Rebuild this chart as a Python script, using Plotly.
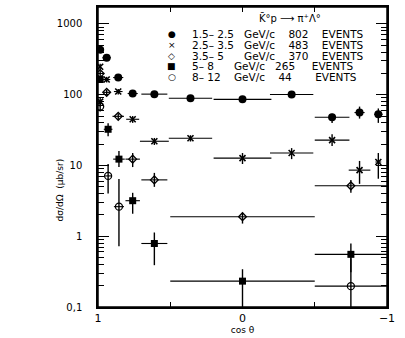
import plotly.graph_objects as go

# --- data (cos theta, dsigma/dOmega in microbarn/sr) ---
cos_a = [0.985, 0.94, 0.86, 0.76, 0.61, 0.36, 0.0, -0.34, -0.62, -0.81, -0.94]
val_a = [432, 333, 175, 104, 102, 89, 86, 101, 48, 56, 53]
up_a = [30, 25, 14, 8, 8, 6, 6, 7, 6, 12, 11]
dn_a = [30, 25, 14, 8, 8, 6, 6, 7, 8, 10, 13]
dx_a = [0.0, 0.03, 0.035, 0.035, 0.09, 0.15, 0.2, 0.15, 0.12, 0.035, 0.03]

cos_b = [0.985, 0.985, 0.94, 0.86, 0.76, 0.61, 0.36, 0.0, -0.34, -0.62, -0.81, -0.94]
val_b = [249, 80, 164, 111, 45, 22, 24.3, 12.7, 15, 22.8, 8.6, 11.2]
up_b = [25, 12, 15, 10, 5, 2.5, 2.5, 2.3, 2.6, 4.9, 3.0, 3.8]
dn_b = [25, 12, 15, 10, 5, 2.5, 2.5, 2.2, 2.7, 4.0, 3.1, 4.7]
dx_b = [0.0, 0.0, 0.025, 0.03, 0.045, 0.1, 0.15, 0.2, 0.15, 0.12, 0.075, 0.02]

cos_c = [0.985, 0.94, 0.86, 0.76, 0.61, 0.0, -0.75]
val_c = [199, 108, 49.5, 12.3, 6.26, 1.89, 5.16]
up_c = [20, 9, 5, 2.7, 1.6, 0.26, 1.1]
dn_c = [20, 9, 5, 2.8, 1.27, 0.38, 1.05]
dx_c = [0.0, 0.025, 0.04, 0.05, 0.09, 0.5, 0.25]

cos_d = [0.985, 0.93, 0.855, 0.76, 0.61, 0.0, -0.75]
val_d = [164, 32.5, 12.3, 3.18, 0.79, 0.232, 0.555]
up_d = [15, 7, 3.7, 0.93, 0.34, 0.11, 0.235]
dn_d = [15, 6.6, 2.8, 1.1, 0.4, 0.14, 0.245]
dx_d = [0.0, 0.03, 0.04, 0.05, 0.09, 0.5, 0.25]

cos_e = [0.985, 0.93, 0.855, -0.75]
val_e = [68, 7.12, 2.62, 0.197]
up_e = [10, 3.4, 3.84, 0.29]
dn_e = [10, 3.1, 1.9, 0.11]
dx_e = [0.0, 0.02, 0.035, 0.25]

legend_glyphs = ["●", "×", "◇", "■", "○"]
# extra spaces keep the columns roughly where the scan has them
legend_texts = [
    "1.5– 2.5   GeV/c    802    EVENTS",
    "2.5– 3.5   GeV/c    483    EVENTS",
    "3.5– 5      GeV/c    370    EVENTS",
    "5– 8      GeV/c   265     EVENTS",
    "8– 12    GeV/c    44       EVENTS",
]
reaction = "K̄°p ⟶ π⁺Λ°"

x_tickvals = [1, 0.5, 0, -0.5, -1]
x_ticktext = ["1", "", "0", "", "−1"]

INK = "#000000"

series = [
    (cos_a, val_a, up_a, dn_a, dx_a, dict(symbol="circle", size=8, color=INK)),
    (cos_b, val_b, up_b, dn_b, dx_b, dict(symbol="x-thin", size=6, color=INK,
                                          line=dict(color=INK, width=1.6))),
    (cos_c, val_c, up_c, dn_c, dx_c, dict(symbol="diamond-open", size=6, color=INK,
                                          line=dict(color=INK, width=1.3))),
    (cos_d, val_d, up_d, dn_d, dx_d, dict(symbol="square", size=7, color=INK)),
    (cos_e, val_e, up_e, dn_e, dx_e, dict(symbol="circle-open", size=7, color=INK,
                                          line=dict(color=INK, width=1.3))),
]

fig = go.Figure()
for xs, ys, up, dn, dx, mk in series:
    fig.add_trace(go.Scatter(
        x=xs, y=ys, mode="markers", marker=mk, showlegend=False,
        error_y=dict(type="data", symmetric=False, array=up, arrayminus=dn,
                     color=INK, thickness=1.4, width=0),
        error_x=dict(type="data", array=dx, color=INK, thickness=1.1, width=0),
    ))

# invisible copy on the right axis so that axis (and its minor ticks) gets drawn
fig.add_trace(go.Scatter(x=cos_a, y=val_a, yaxis="y2", mode="markers",
                         marker=dict(opacity=0), hoverinfo="skip", showlegend=False))

# legend drawn as text, rows are much tighter than plotly's own legend
row_y = [0.911, 0.872, 0.838, 0.802, 0.768]
for glyph, txt, yy in zip(legend_glyphs, legend_texts, row_y):
    fig.add_annotation(x=0.256, y=yy, xref="paper", yref="paper", text=glyph,
                       showarrow=False, xanchor="center", yanchor="middle",
                       font=dict(family="DejaVu Sans", size=9, color=INK))
    fig.add_annotation(x=0.32, y=yy, xref="paper", yref="paper", text=txt,
                       showarrow=False, xanchor="left", yanchor="middle",
                       font=dict(family="DejaVu Sans", size=10.5, color=INK))

fig.add_annotation(x=0.665, y=0.962, xref="paper", yref="paper", text=reaction,
                   showarrow=False, xanchor="center", yanchor="middle",
                   font=dict(family="DejaVu Sans", size=10, color=INK))

fig.add_annotation(x=-0.13, y=0.39, xref="paper", yref="paper",
                   text="dσ/dΩ  (μb/sr)", textangle=-90, showarrow=False,
                   xanchor="center", yanchor="middle",
                   font=dict(family="DejaVu Sans", size=9, color=INK))

# plain box round the plot area
fig.add_shape(type="rect", xref="paper", yref="paper", x0=0, x1=1, y0=0, y1=1,
              line=dict(color=INK, width=1.5), layer="above")

log_axis = dict(
    type="log", range=[-1, 3.24], showgrid=False, zeroline=False,
    showline=True, linecolor=INK, linewidth=1.5,
    ticks="inside", ticklen=11, tickcolor=INK, tickwidth=1.2,
    tickmode="linear", tick0=0, dtick=1,
    minor=dict(ticks="inside", ticklen=6, tickcolor=INK, tickwidth=1,
               dtick="D1", showgrid=False),
)

fig.update_layout(
    width=405, height=338,
    margin=dict(l=98, r=18, t=5, b=31),
    paper_bgcolor="white", plot_bgcolor="white",
    font=dict(family="DejaVu Sans", color=INK),
    xaxis=dict(
        range=[1, -1], showgrid=False, zeroline=False,
        showline=True, linecolor=INK, linewidth=1.5, mirror="ticks",
        ticks="inside", ticklen=5, tickcolor=INK, tickwidth=1.2,
        tickvals=x_tickvals, ticktext=x_ticktext,
        tickfont=dict(size=11), ticklabelstandoff=0,
        title=dict(text="cos θ", font=dict(size=9), standoff=1),
    ),
    yaxis=dict(
        **log_axis, mirror="ticks",
        exponentformat="none", labelalias={"0.1": "0,1"},
        tickfont=dict(size=10), ticklabelstandoff=12,
    ),
    # right-hand frame with its own inside ticks, as on the scan
    yaxis2=dict(**log_axis, overlaying="y", side="right", showticklabels=False),
)

# drop the browser's default 8px body margin so the figure sits at 0,0
fig.write_html("out.html", config={"displayModeBar": False},
               post_script="document.body.style.margin='0px';"
                           "document.body.style.overflow='hidden';")
